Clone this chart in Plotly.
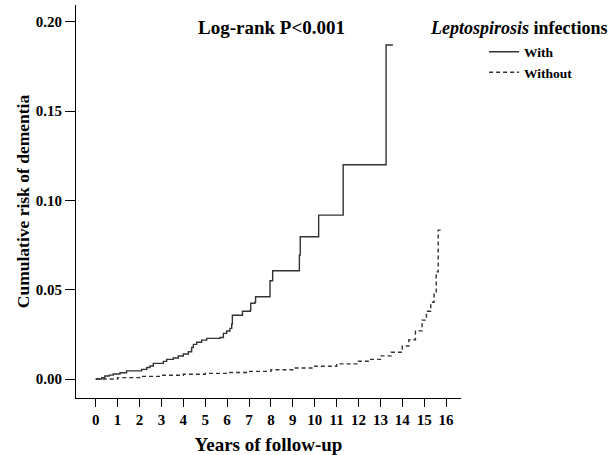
import plotly.graph_objects as go

# ---- data ----
with_years = [0, 0.27, 0.42, 0.62, 0.80, 1.11, 1.41, 2.10, 2.33, 2.48, 2.63, 3.09, 3.24,
              3.54, 3.77, 4.00, 4.23, 4.38, 4.46, 4.61, 4.84, 5.07, 5.68, 5.83, 5.98,
              6.13, 6.21, 6.24, 6.70, 7.06, 7.08, 7.27, 7.30, 7.96, 8.08, 9.30, 9.34,
              10.18, 11.30, 13.26, 13.57]
with_risk = [0, 0.0007, 0.0017, 0.0022, 0.0028, 0.0035, 0.0046, 0.0054, 0.0065, 0.0073,
             0.0088, 0.0099, 0.0110, 0.0118, 0.0129, 0.0140, 0.0153, 0.0177, 0.0194,
             0.0206, 0.0218, 0.0228, 0.0233, 0.0256, 0.0269, 0.0284, 0.0308, 0.0357,
             0.0380, 0.0386, 0.0424, 0.0430, 0.0461, 0.0550, 0.0606, 0.0694, 0.0797,
             0.0918, 0.1200, 0.1870, 0.1870]

without_years = [0, 1, 2, 3, 4, 5, 6, 7, 8, 9, 10, 11, 12, 12.5, 13, 13.5, 14, 14.3,
                 14.6, 14.9, 15.1, 15.3, 15.45, 15.55, 15.64, 15.75]
without_risk = [0, 0.0008, 0.0015, 0.0021, 0.0027, 0.0032, 0.0037, 0.0043, 0.0052,
                0.0062, 0.0072, 0.0085, 0.0100, 0.0110, 0.0130, 0.0150, 0.0185, 0.0220,
                0.0270, 0.0330, 0.0380, 0.0430, 0.0480, 0.0600, 0.0834, 0.0834]

x_ticks = list(range(0, 17))
y_ticks = [0.00, 0.05, 0.10, 0.15, 0.20]
y_tick_labels = ["0.00", "0.05", "0.10", "0.15", "0.20"]

FONT = "Liberation Serif"
LINE_COLOR = "#333333"

fig = go.Figure()
fig.add_trace(go.Scatter(
    x=with_years, y=with_risk, mode="lines", name="<b>With</b>",
    line=dict(shape="hv", color=LINE_COLOR, width=1.4),
))
fig.add_trace(go.Scatter(
    x=without_years, y=without_risk, mode="lines", name="<b>Without</b>",
    line=dict(shape="hv", color=LINE_COLOR, width=1.4, dash="4px,3px"),
))

fig.update_layout(
    width=611, height=455,
    margin=dict(l=76, r=150, t=5, b=57, autoexpand=False),
    paper_bgcolor="white", plot_bgcolor="white",
    font=dict(family=FONT, color="black", size=14),
    showlegend=True,
    legend=dict(
        x=1.060, y=0.920, xanchor="left", yanchor="top",
        font=dict(family=FONT, size=13.5, color="black"),
        bgcolor="rgba(0,0,0,0)", itemwidth=30, tracegroupgap=0,
    ),
    xaxis=dict(
        range=[-0.9, 16.68], tickvals=x_ticks, ticktext=[f"<b>{t}</b>" for t in x_ticks],
        showgrid=False, zeroline=False, showline=True, linecolor="black", linewidth=1,
        ticks="outside", ticklen=8, tickcolor="black", automargin=False,
        tickfont=dict(family=FONT, size=15, color="black"),
        title=dict(text="<b>Years of follow-up</b>", font=dict(family=FONT, size=19), standoff=12),
    ),
    yaxis=dict(
        range=[-0.0106, 0.2094], tickvals=y_ticks, ticktext=[f"<b>{t}</b>" for t in y_tick_labels],
        showgrid=False, zeroline=False, showline=True, linecolor="black", linewidth=1,
        ticks="outside", ticklen=10, tickcolor="black", ticklabelstandoff=0, automargin=False,
        tickfont=dict(family=FONT, size=15, color="black"),
        title=dict(text="<b>Cumulative risk of dementia</b>", font=dict(family=FONT, size=17.5), standoff=1),
    ),
    annotations=[
        dict(text="<b>Log-rank P<0.001</b>", x=0.507, y=0.9415, xref="paper", yref="paper",
             xanchor="center", yanchor="middle", showarrow=False,
             font=dict(family=FONT, size=19, color="black")),
        dict(text="<b><i>Leptospirosis</i> infections</b>", x=1.387, y=0.9415,
             xref="paper", yref="paper", xanchor="right", yanchor="middle", showarrow=False,
             font=dict(family=FONT, size=18, color="black")),
    ],
)

fig.write_html(
    "out.html",
    config={"displayModeBar": False},
    post_script="document.body.style.margin='0';document.body.style.overflow='hidden';",
)
